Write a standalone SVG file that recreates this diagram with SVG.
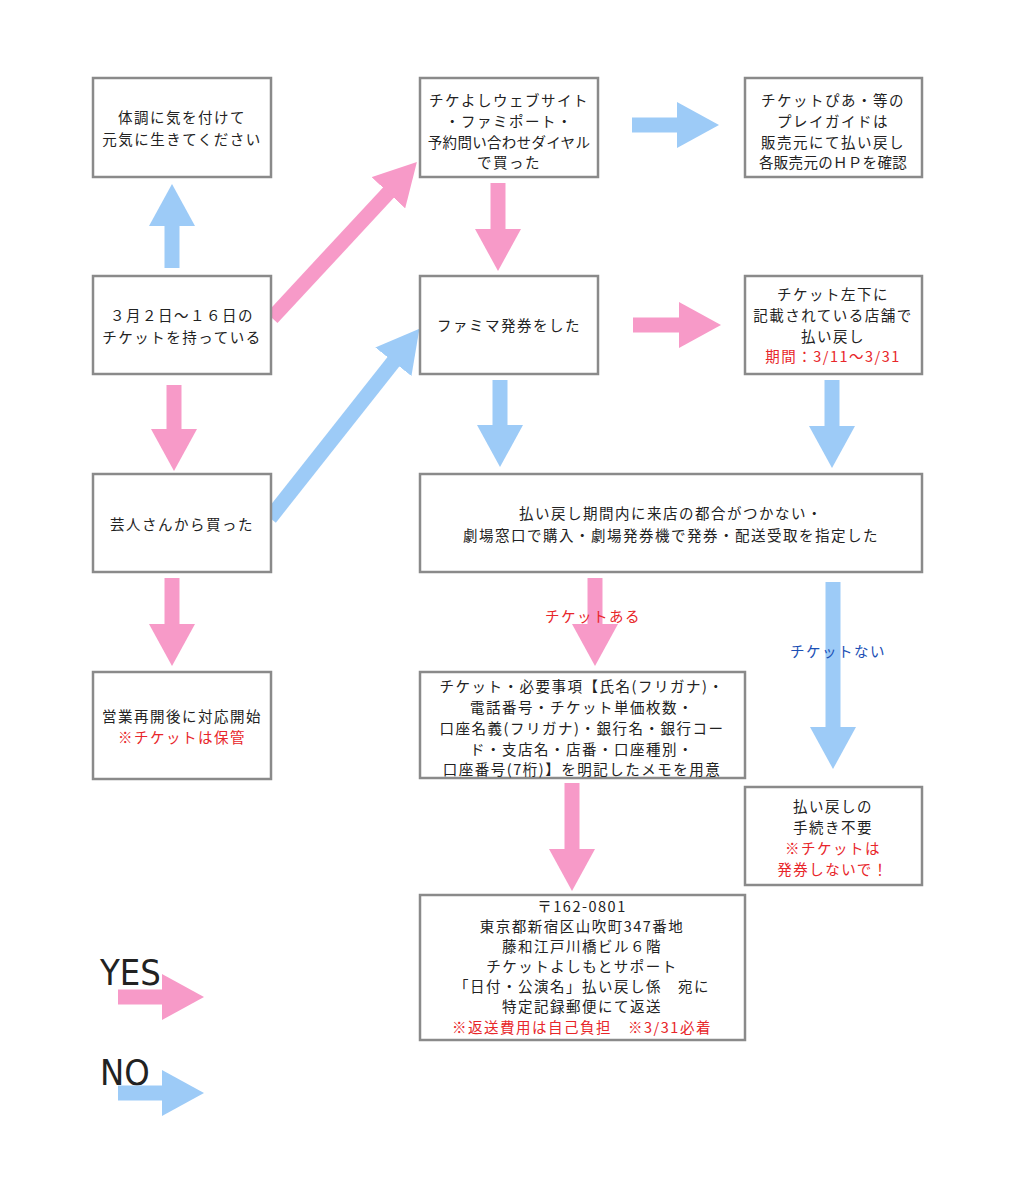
<svg xmlns="http://www.w3.org/2000/svg" width="1034" height="1200" viewBox="0 0 1034 1200">
<style>
.box{fill:#fff;stroke:#8a8a8a;stroke-width:2.5}
text{font-family:"Noto Sans CJK JP","Noto Sans",sans-serif;font-size:14.5px;fill:#222;text-anchor:middle;letter-spacing:1.5px}
.t{letter-spacing:0.3px}
.r{fill:#e8262a}
.b{fill:#1b4fb5}
.p{stroke:#f79ac8;stroke-width:15;fill:none}
.u{stroke:#9dcbf7;stroke-width:15;fill:none}
.leg{font-size:36px;text-anchor:start;letter-spacing:0;font-family:"DejaVu Sans Condensed","Liberation Sans",sans-serif}
</style>
<defs>
<marker id="hp" markerUnits="userSpaceOnUse" markerWidth="42" markerHeight="46" refX="1" refY="23" orient="auto"><path d="M0,0 L42,23 L0,46 z" fill="#f79ac8"/></marker>
<marker id="hb" markerUnits="userSpaceOnUse" markerWidth="42" markerHeight="46" refX="1" refY="23" orient="auto"><path d="M0,0 L42,23 L0,46 z" fill="#9dcbf7"/></marker>
</defs>
<rect width="1034" height="1200" fill="#fff"/>
<g id="connectors">
<line class="u" x1="172" y1="268" x2="172" y2="225" marker-end="url(#hb)"/>
<line class="p" x1="272" y1="318" x2="389" y2="192" marker-end="url(#hp)"/>
<line class="u" x1="632" y1="125" x2="678" y2="125" marker-end="url(#hb)"/>
<line class="p" x1="498" y1="183" x2="498" y2="230" marker-end="url(#hp)"/>
<line class="p" x1="174" y1="385" x2="174" y2="430" marker-end="url(#hp)"/>
<line class="u" x1="270" y1="518" x2="394" y2="361" marker-end="url(#hb)"/>
<line class="p" x1="633" y1="325" x2="680" y2="325" marker-end="url(#hp)"/>
<line class="u" x1="500" y1="380" x2="500" y2="426" marker-end="url(#hb)"/>
<line class="u" x1="832" y1="380" x2="832" y2="427" marker-end="url(#hb)"/>
<line class="p" x1="172" y1="578" x2="172" y2="625" marker-end="url(#hp)"/>
<line class="p" x1="595" y1="578" x2="595" y2="625" marker-end="url(#hp)"/>
<line class="u" x1="833" y1="582" x2="833" y2="728" marker-end="url(#hb)"/>
<line class="p" x1="572" y1="783" x2="572" y2="850" marker-end="url(#hp)"/>
<text class="r" x="593" y="622">チケットある</text>
<text class="b" x="838" y="657">チケットない</text>
</g>
<g id="nA"><rect class="box" x="93" y="78" width="178" height="99"/><text x="182" y="123">体調に気を付けて</text><text x="182" y="145">元気に生きてください</text></g>
<g id="nB"><rect class="box" x="420" y="78" width="178" height="99"/><text x="509" y="106">チケよしウェブサイト</text><text x="509" y="127">・ファミポート・</text><text class="t" x="509" y="148">予約問い合わせダイヤル</text><text x="509" y="168">で買った</text></g>
<g id="nC"><rect class="box" x="745" y="78" width="177" height="99"/><text x="833" y="106">チケットぴあ・等の</text><text x="833" y="127">プレイガイドは</text><text x="833" y="148">販売元にて払い戻し</text><text class="t" x="833" y="168">各販売元のＨＰを確認</text></g>
<g id="nD"><rect class="box" x="93" y="276" width="178" height="98"/><text x="182" y="321">３月２日～１６日の</text><text x="182" y="343">チケットを持っている</text></g>
<g id="nE"><rect class="box" x="420" y="276" width="178" height="98"/><text x="509" y="331">ファミマ発券をした</text></g>
<g id="nF"><rect class="box" x="745" y="276" width="177" height="98"/><text x="833" y="300">チケット左下に</text><text x="833" y="321">記載されている店舗で</text><text x="833" y="342">払い戻し</text><text class="r" x="833" y="362">期間：3/11～3/31</text></g>
<g id="nG"><rect class="box" x="93" y="474" width="178" height="98"/><text x="182" y="530">芸人さんから買った</text></g>
<g id="nH"><rect class="box" x="420" y="474" width="502" height="98"/><text x="671" y="519">払い戻し期間内に来店の都合がつかない・</text><text x="671" y="541">劇場窓口で購入・劇場発券機で発券・配送受取を指定した</text></g>
<g id="nI"><rect class="box" x="93" y="672" width="178" height="107"/><text x="182" y="722">営業再開後に対応開始</text><text class="r" x="182" y="743">※チケットは保管</text></g>
<g id="nJ"><rect class="box" x="420" y="672" width="325" height="106"/><text x="582" y="692">チケット・必要事項【氏名(フリガナ)・</text><text x="582" y="713">電話番号・チケット単価枚数・</text><text x="582" y="734">口座名義(フリガナ)・銀行名・銀行コー</text><text x="582" y="755">ド・支店名・店番・口座種別・</text><text x="582" y="775">口座番号(7桁)】を明記したメモを用意</text></g>
<g id="nK"><rect class="box" x="745" y="787" width="177" height="98"/><text x="833" y="812">払い戻しの</text><text x="833" y="833">手続き不要</text><text class="r" x="833" y="854">※チケットは</text><text class="r" x="833" y="875">発券しないで！</text></g>
<g id="nL"><rect class="box" x="420" y="895" width="325" height="145"/><text x="582" y="912">〒162-0801</text><text x="582" y="932">東京都新宿区山吹町347番地</text><text x="582" y="952">藤和江戸川橋ビル６階</text><text x="582" y="972">チケットよしもとサポート</text><text x="582" y="992">「日付・公演名」払い戻し係　宛に</text><text x="582" y="1012">特定記録郵便にて返送</text><text class="r" x="582" y="1033">※返送費用は自己負担　※3/31必着</text></g>
<g id="legend">
<text class="leg" x="100" y="985">YES</text>
<line class="p" x1="118" y1="997" x2="163" y2="997" marker-end="url(#hp)"/>
<text class="leg" x="100" y="1085">NO</text>
<line class="u" x1="118" y1="1093" x2="163" y2="1093" marker-end="url(#hb)"/>
</g>
</svg>
